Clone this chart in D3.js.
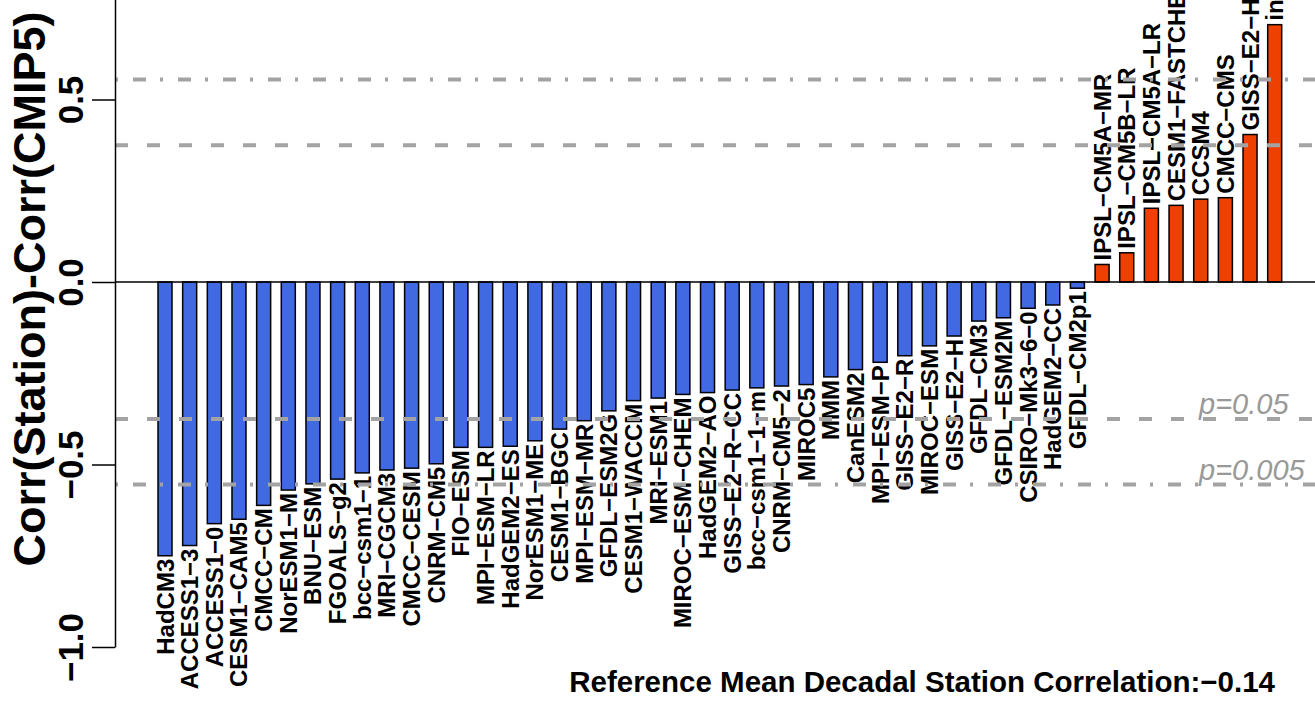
<!DOCTYPE html>
<html>
<head>
<meta charset="utf-8">
<script src="https://cdn.jsdelivr.net/npm/d3@7"></script>
<style>
  body { margin: 0; background: #fff; }
  svg { display: block; font-family: "Liberation Sans", Arial, Helvetica, sans-serif; }
</style>
</head>
<body>
<svg id="chart" width="1315" height="701"></svg>
<script>
// model names, sorted by difference
const models = [
  "HadCM3", "ACCESS1-3", "ACCESS1-0", "CESM1-CAM5", "CMCC-CM", "NorESM1-M",
  "BNU-ESM", "FGOALS-g2", "bcc-csm1-1", "MRI-CGCM3", "CMCC-CESM", "CNRM-CM5",
  "FIO-ESM", "MPI-ESM-LR", "HadGEM2-ES", "NorESM1-ME", "CESM1-BGC", "MPI-ESM-MR",
  "GFDL-ESM2G", "CESM1-WACCM", "MRI-ESM1", "MIROC-ESM-CHEM", "HadGEM2-AO",
  "GISS-E2-R-CC", "bcc-csm1-1-m", "CNRM-CM5-2", "MIROC5", "MMM", "CanESM2",
  "MPI-ESM-P", "GISS-E2-R", "MIROC-ESM", "GISS-E2-H", "GFDL-CM3", "GFDL-ESM2M",
  "CSIRO-Mk3-6-0", "HadGEM2-CC", "GFDL-CM2p1",
  "IPSL-CM5A-MR", "IPSL-CM5B-LR", "IPSL-CM5A-LR", "CESM1-FASTCHEM", "CCSM4",
  "CMCC-CMS", "GISS-E2-H-CC", "inm-cm4"
];

// Corr(Station) - Corr(CMIP5)
const diffs = [
  -0.750, -0.722, -0.662, -0.650, -0.612, -0.570,
  -0.553, -0.540, -0.523, -0.515, -0.510, -0.498,
  -0.453, -0.453, -0.450, -0.435, -0.403, -0.380,
  -0.353, -0.325, -0.318, -0.308, -0.303,
  -0.296, -0.290, -0.285, -0.281, -0.260, -0.240,
  -0.220, -0.202, -0.175, -0.148, -0.107, -0.098,
  -0.072, -0.063, -0.017,
  0.048, 0.080, 0.202, 0.210, 0.227,
  0.231, 0.404, 0.705
];

const yTicks = [-1, -0.5, 0, 0.5, 1];
const sigLevels = [0.375, 0.555];          // significance thresholds
const sigLabels = ["p=0.05", "p=0.005"];
const refCorr = -0.14;

const svg = d3.select("#chart");

const x = d3.scaleBand()
  .domain(models)
  .range([158, 1281.7])
  .paddingInner(0.432)
  .paddingOuter(0);

const y = d3.scaleLinear()
  .domain([-1, 1])
  .range([647, -83]);

// bars
svg.append("g")
  .selectAll("rect")
  .data(models)
  .enter().append("rect")
  .attr("x", (d, i) => x(d))
  .attr("y", (d, i) => y(Math.max(0, diffs[i])))
  .attr("width", x.bandwidth())
  .attr("height", (d, i) => Math.abs(y(diffs[i]) - y(0)))
  .attr("fill", (d, i) => diffs[i] < 0 ? "#4169E1" : "#EE4000")
  .attr("stroke", "#000")
  .attr("stroke-width", 1.5);

// bar labels, vertical
svg.append("g")
  .selectAll("text")
  .data(models)
  .enter().append("text")
  .attr("transform", (d, i) => {
    const cx = x(d) + x.bandwidth() / 2 + 8.5;
    const cy = diffs[i] < 0 ? y(diffs[i]) + 3 : y(diffs[i]) - 4;
    return `translate(${cx},${cy}) rotate(-90)`;
  })
  .attr("text-anchor", (d, i) => diffs[i] < 0 ? "end" : "start")
  .attr("font-size", "24px")
  .attr("font-weight", "bold")
  .attr("fill", "#000")
  .text(d => d.replace(/-/g, "\u2212"));

// significance lines
const lineStyles = ["13,19", "3,15,13,14"];
sigLevels.forEach((s, k) => {
  [s, -s].forEach(v => {
    svg.append("line")
      .attr("x1", 115).attr("x2", 1315)
      .attr("y1", y(v)).attr("y2", y(v))
      .attr("stroke", "#a3a3a3")
      .attr("stroke-width", 4)
      .attr("stroke-dasharray", lineStyles[k]);
  });
  svg.append("text")
    .attr("x", 1199)
    .attr("y", y(-s) - 5)
    .attr("font-size", "29px")
    .attr("font-style", "italic")
    .attr("fill", "#999")
    .text(sigLabels[k]);
});

// zero line
svg.append("line")
  .attr("x1", 115).attr("x2", 1315)
  .attr("y1", y(0)).attr("y2", y(0))
  .attr("stroke", "#000")
  .attr("stroke-width", 1.5);

// y axis
const yAxis = svg.append("g")
  .attr("transform", "translate(115,0)")
  .call(d3.axisLeft(y).tickValues(yTicks).tickFormat(d3.format(".1f")).tickSize(23).tickSizeOuter(0));

yAxis.select(".domain").attr("stroke-width", 1.5);
yAxis.selectAll(".tick line").attr("stroke-width", 1.5);
yAxis.selectAll(".tick text")
  .attr("transform", "rotate(-90)")
  .attr("x", 0)
  .attr("y", -32)
  .attr("dy", 0)
  .attr("text-anchor", "middle")
  .attr("font-size", "35px")
  .attr("font-weight", "bold")
  .attr("font-family", "Liberation Sans, Arial, sans-serif")
  .attr("fill", "#000");

// y title
svg.append("text")
  .attr("transform", "translate(45,289) rotate(-90)")
  .attr("text-anchor", "middle")
  .attr("font-size", "45px")
  .attr("font-weight", "bold")
  .text("Corr(Station)-Corr(CMIP5)");

// reference correlation note
svg.append("text")
  .attr("x", 1275)
  .attr("y", 692)
  .attr("text-anchor", "end")
  .attr("font-size", "29.5px")
  .attr("font-weight", "bold")
  .text("Reference Mean Decadal Station Correlation:" + d3.format(".2f")(refCorr));
</script>
</body>
</html>
